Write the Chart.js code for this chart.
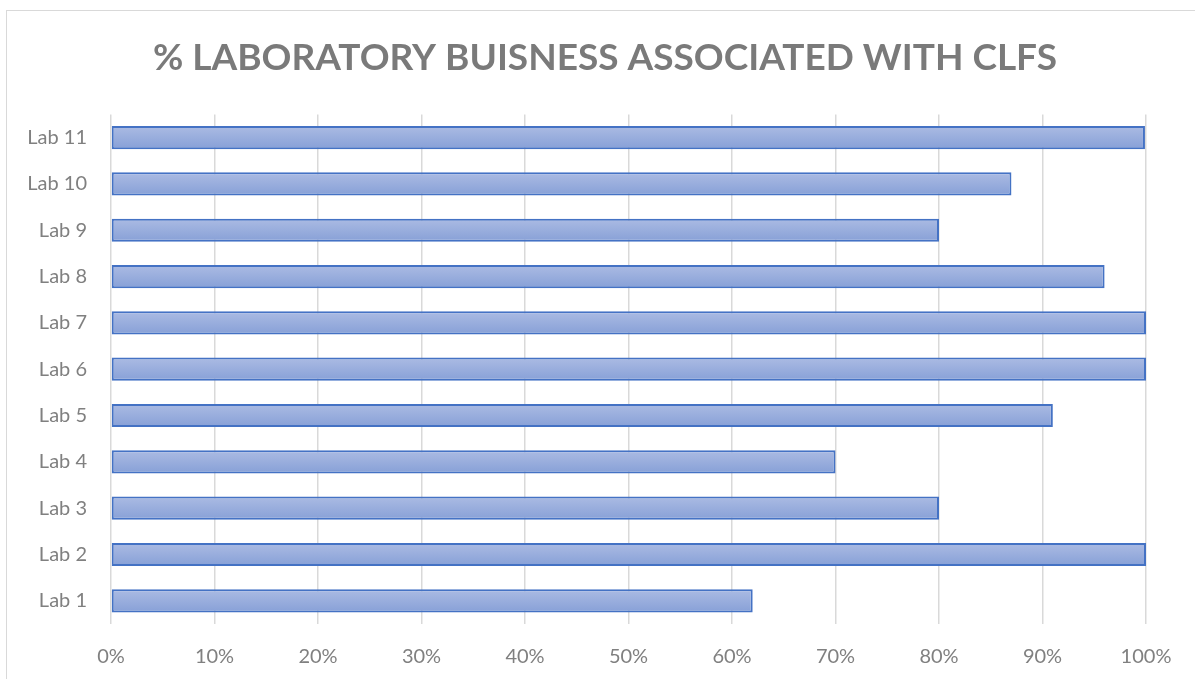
<!DOCTYPE html>
<html>
<head>
<meta charset="utf-8">
<script src="https://cdn.jsdelivr.net/npm/chart.js@4.4.0/dist/chart.umd.min.js"></script>
<style>
  html, body { margin: 0; padding: 0; background: #ffffff; overflow: hidden; }
  #wrap { position: absolute; left: 0; top: 0; width: 1195px; height: 679px; overflow: hidden; }
  #frame { position: absolute; left: 6px; top: 10px; width: 1300px; height: 700px; border: 1.5px solid #d9d9d9; box-sizing: border-box; }
  canvas { position: absolute; left: 0; top: 0; }
</style>
</head>
<body>
<div id="wrap">
  <div id="frame"></div>
  <canvas id="c" width="1195" height="679"></canvas>
</div>
<script>
const categories = ["Lab 1", "Lab 2", "Lab 3", "Lab 4", "Lab 5", "Lab 6", "Lab 7", "Lab 8", "Lab 9", "Lab 10", "Lab 11"];
const shareValues = [62, 100, 80, 70, 91, 100, 100, 96, 80, 87, 99.9];
const xTicks = [0, 10, 20, 30, 40, 50, 60, 70, 80, 90, 100];
const chartTitle = "% LABORATORY BUISNESS ASSOCIATED WITH CLFS";

const FONT = "Lato, 'Open Sans', sans-serif";

function barGradient(ctx) {
  const chart = ctx.chart;
  const ys = chart.scales && chart.scales.y;
  if (!ys || ctx.dataIndex === undefined) return '#94a9dc';
  const yc = ys.getPixelForValue(ctx.dataIndex);
  const half = ys.height / categories.length * 0.25;
  if (!isFinite(yc) || !isFinite(half) || half <= 0) return '#94a9dc';
  const g = chart.ctx.createLinearGradient(0, yc - half, 0, yc + half);
  g.addColorStop(0, '#abbbe3');
  g.addColorStop(1, '#87a0d7');
  return g;
}

const titleShift = {
  id: 'titleShift',
  afterLayout(chart) {
    const t = chart.titleBlock;
    if (t) { t.left = 0; t.right = 1210; t.width = 1210; }
  }
};

new Chart(document.getElementById('c'), {
  type: 'bar',
  data: {
    labels: categories,
    datasets: [{
      data: shareValues,
      backgroundColor: barGradient,
      borderColor: '#4472c4',
      borderWidth: 2,
      borderSkipped: false,
      barPercentage: 0.5,
      categoryPercentage: 1.0
    }]
  },
  plugins: [titleShift],
  options: {
    indexAxis: 'y',
    responsive: false,
    animation: false,
    layout: { padding: { left: 0, right: 49, top: 0, bottom: -11 } },
    plugins: {
      legend: { display: false },
      tooltip: { enabled: false },
      title: {
        display: true,
        text: chartTitle,
        color: '#7a7a7a',
        font: { family: FONT, size: 37, weight: 'bold', lineHeight: 1.2 },
        padding: { top: 36, bottom: 34 }
      }
    },
    scales: {
      x: {
        min: 0,
        max: 100,
        afterBuildTicks: (scale) => { scale.ticks = xTicks.map(v => ({ value: v })); },
        ticks: {
          callback: (v) => v + '%',
          color: '#808080',
          font: { family: FONT, size: 20 },
          padding: 21,
          maxRotation: 0
        },
        grid: { color: '#d9d9d9', lineWidth: 1.5, drawTicks: false },
        border: { display: false }
      },
      y: {
        reverse: true,
        afterFit: (scale) => { scale.width = 111; },
        ticks: {
          color: '#808080',
          font: { family: FONT, size: 20 },
          padding: 24
        },
        grid: { display: false, drawTicks: false },
        border: { display: false }
      }
    }
  }
});
</script>
</body>
</html>
